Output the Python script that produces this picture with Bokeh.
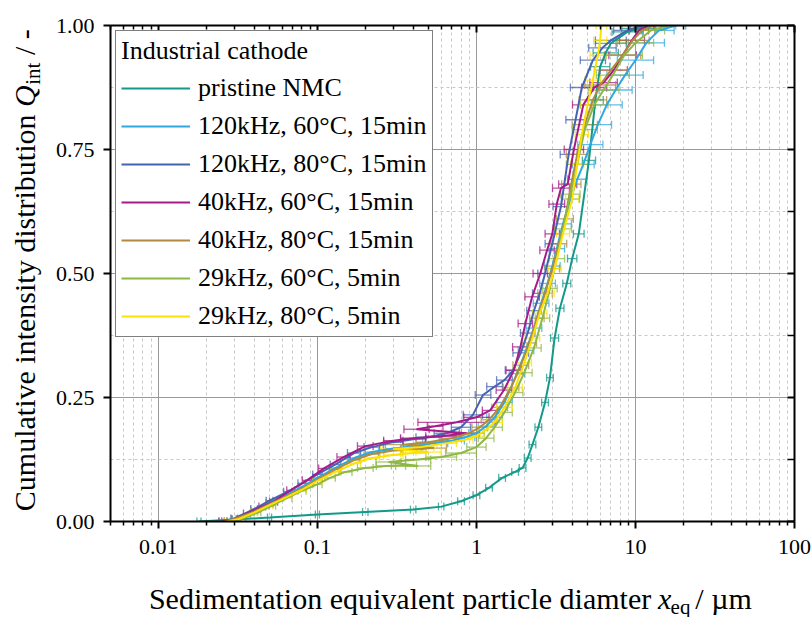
import math
from bokeh.plotting import figure
from bokeh.layouts import row, column
from bokeh.models import (Range1d, FixedTicker, LinearAxis, LogAxis, Whisker, TeeHead,
                          ColumnDataSource, Label, Legend, LegendItem, CustomJSTickFormatter)
from bokeh.embed import file_html
from bokeh.resources import INLINE

FONT = "Liberation Serif"

# ---------------- data ----------------
names = ["pristine NMC", "120kHz, 60°C, 15min", "120kHz, 80°C, 15min", "40kHz, 60°C, 15min",
         "40kHz, 80°C, 15min", "29kHz, 60°C, 5min", "29kHz, 80°C, 5min"]
colors = ["#12998a", "#2fa8e0", "#4563b0", "#a61a8a", "#b08a3e", "#8db843", "#fbe200"]

pristine_x = [0.018, 0.03, 0.05, 0.1, 0.2, 0.4, 0.6, 0.8, 1.0, 1.2, 1.45, 1.75, 1.95, 2.1, 2.25, 2.45,
              2.7, 2.9, 3.1, 3.35, 3.7, 4.0, 4.4, 5.1, 5.6, 6.0, 6.5, 7.0, 8.9, 10.5, 13.0]
pristine_y = [0.0, 0.004, 0.008, 0.014, 0.019, 0.024, 0.03, 0.041, 0.053, 0.068, 0.088, 0.1, 0.108, 0.128,
              0.155, 0.19, 0.24, 0.29, 0.37, 0.43, 0.48, 0.53, 0.58, 0.728, 0.85, 0.917, 0.945, 0.964,
              0.987, 0.994, 1.0]
pristine_f = [1.03, 1.03, 1.03, 1.03, 1.04, 1.04, 1.04, 1.05, 1.05, 1.05, 1.05, 1.05, 1.05, 1.05, 1.05,
              1.05, 1.05, 1.05, 1.06, 1.06, 1.06, 1.07, 1.08, 1.1, 1.12, 1.15, 1.2, 1.25, 1.25, 1.28, 1.2]

k120_60_x = [0.025, 0.03, 0.04, 0.05, 0.065, 0.08, 0.1, 0.13, 0.17, 0.22, 0.3, 0.4, 0.55, 0.7, 0.85,
             1.0, 1.15, 1.3, 1.5, 1.8, 2.05, 2.3, 2.55, 2.8, 3.0, 3.2, 3.5, 3.9, 4.3, 4.7, 5.2, 5.8,
             6.6, 7.5, 8.6, 10.0, 11.7, 14.0, 18.0]
k120_60_y = [0, 0.005, 0.022, 0.038, 0.055, 0.07, 0.088, 0.108, 0.128, 0.14, 0.147, 0.151, 0.158, 0.163,
             0.17, 0.178, 0.192, 0.21, 0.24, 0.298, 0.345, 0.39, 0.44, 0.48, 0.515, 0.55, 0.6, 0.65,
             0.69, 0.72, 0.76, 0.8, 0.84, 0.87, 0.9, 0.93, 0.965, 0.99, 1.0]
k120_60_f = [1.04, 1.04, 1.05, 1.05, 1.06, 1.06, 1.07, 1.07, 1.08, 1.1, 1.12, 1.15, 1.2, 1.2, 1.15,
             1.12, 1.12, 1.12, 1.12, 1.12, 1.12, 1.12, 1.12, 1.12, 1.12, 1.12, 1.13, 1.14, 1.15, 1.17,
             1.2, 1.22, 1.25, 1.27, 1.3, 1.3, 1.3, 1.25, 1.15]

k120_80_x = [0.026, 0.03, 0.04, 0.05, 0.065, 0.08, 0.1, 0.13, 0.17, 0.22, 0.3, 0.4, 0.5, 0.65, 0.8,
             0.95, 1.1, 1.3, 1.5, 1.7, 1.9, 2.1, 2.3, 2.5, 2.7, 3.0, 3.4, 3.8, 4.2, 4.6, 5.4, 6.2,
             7.0, 8.9, 11.0]
k120_80_y = [0, 0.006, 0.025, 0.042, 0.06, 0.077, 0.095, 0.115, 0.138, 0.15, 0.16, 0.166, 0.17, 0.178,
             0.19, 0.215, 0.255, 0.272, 0.285, 0.305, 0.34, 0.38, 0.425, 0.46, 0.5, 0.56, 0.635, 0.74,
             0.81, 0.875, 0.93, 0.955, 0.97, 0.99, 1.0]
k120_80_f = [1.04, 1.05, 1.05, 1.05, 1.06, 1.06, 1.07, 1.08, 1.1, 1.12, 1.15, 1.2, 1.2, 1.2, 1.15,
             1.15, 1.12, 1.12, 1.12, 1.12, 1.12, 1.11, 1.11, 1.11, 1.11, 1.11, 1.12, 1.13, 1.15, 1.18,
             1.2, 1.22, 1.25, 1.22, 1.18]

k40_60_x = [0.025, 0.03, 0.036, 0.045, 0.053, 0.068, 0.086, 0.11, 0.146, 0.2, 0.3, 0.4, 0.6, 0.87, 0.42,
            0.55, 0.75, 1.0, 1.22, 1.49, 1.72, 1.89, 2.03, 2.24, 2.52, 2.78, 3.0, 3.2, 3.4, 3.75, 4.1,
            4.7, 5.5, 6.3, 7.3, 8.3, 9.5, 10.5, 12.0]
k40_60_y = [0, 0.004, 0.016, 0.03, 0.04, 0.063, 0.083, 0.107, 0.13, 0.152, 0.163, 0.168, 0.172, 0.178,
            0.186, 0.192, 0.2, 0.21, 0.224, 0.265, 0.305, 0.352, 0.399, 0.453, 0.5, 0.547, 0.58, 0.64,
            0.672, 0.68, 0.75, 0.84, 0.875, 0.885, 0.91, 0.94, 0.97, 0.99, 1.0]
k40_60_f = [1.04, 1.04, 1.05, 1.05, 1.06, 1.06, 1.07, 1.08, 1.1, 1.12, 1.15, 1.2, 1.25, 1.2, 1.2,
            1.12, 1.75, 1.2, 1.12, 1.12, 1.12, 1.12, 1.11, 1.11, 1.11, 1.11, 1.11, 1.12, 1.13, 1.14,
            1.15, 1.17, 1.2, 1.22, 1.22, 1.22, 1.2, 1.15, 1.1]

k40_80_x = [0.026, 0.03, 0.04, 0.05, 0.065, 0.08, 0.1, 0.13, 0.17, 0.22, 0.3, 0.4, 0.54, 0.35, 0.5,
            0.7, 0.9, 1.05, 1.2, 1.4, 1.65, 1.9, 2.15, 2.4, 2.7, 3.0, 3.3, 3.6, 3.95, 4.3, 4.8, 5.4,
            6.0, 7.0, 8.3, 9.6, 11.0, 13.0]
k40_80_y = [0, 0.005, 0.02, 0.035, 0.052, 0.067, 0.085, 0.105, 0.124, 0.136, 0.143, 0.146, 0.148, 0.155,
            0.16, 0.168, 0.178, 0.19, 0.205, 0.23, 0.27, 0.315, 0.36, 0.41, 0.46, 0.51, 0.56, 0.61,
            0.68, 0.74, 0.8, 0.85, 0.88, 0.91, 0.94, 0.97, 0.99, 1.0]
k40_80_f = [1.04, 1.04, 1.05, 1.05, 1.06, 1.06, 1.07, 1.08, 1.1, 1.12, 1.15, 1.2, 1.2, 1.35, 1.2,
            1.15, 1.12, 1.12, 1.12, 1.12, 1.12, 1.12, 1.11, 1.11, 1.11, 1.11, 1.12, 1.13, 1.15, 1.17,
            1.2, 1.22, 1.25, 1.27, 1.3, 1.27, 1.2, 1.12]

k29_60_x = [0.028, 0.034, 0.042, 0.052, 0.065, 0.08, 0.1, 0.12, 0.15, 0.2, 0.27, 0.35, 0.43, 0.28, 0.43,
            0.6, 0.8, 1.0, 1.15, 1.3, 1.5, 1.75, 2.0, 2.3, 2.6, 2.9, 3.2, 3.5, 3.9, 4.3, 4.8, 5.5,
            6.3, 7.2, 8.5, 10.0, 12.5, 16.0]
k29_60_y = [0, 0.006, 0.018, 0.032, 0.048, 0.062, 0.075, 0.088, 0.1, 0.108, 0.112, 0.113, 0.112, 0.12,
            0.125, 0.13, 0.138, 0.15, 0.168, 0.19, 0.22, 0.26, 0.3, 0.35, 0.41, 0.47, 0.53, 0.59,
            0.66, 0.72, 0.79, 0.84, 0.87, 0.9, 0.94, 0.965, 0.99, 1.0]
k29_60_f = [1.04, 1.04, 1.05, 1.05, 1.06, 1.06, 1.07, 1.08, 1.1, 1.12, 1.15, 1.2, 1.2, 1.2, 1.2,
            1.25, 1.25, 1.15, 1.12, 1.12, 1.12, 1.12, 1.12, 1.11, 1.11, 1.11, 1.12, 1.13, 1.15, 1.17,
            1.2, 1.22, 1.25, 1.27, 1.3, 1.3, 1.22, 1.12]

k29_80_x = [0.027, 0.032, 0.04, 0.05, 0.065, 0.08, 0.1, 0.13, 0.17, 0.22, 0.3, 0.4, 0.5, 0.3, 0.45,
            0.65, 0.85, 1.0, 1.15, 1.3, 1.5, 1.75, 2.0, 2.25, 2.5, 2.8, 3.1, 3.5, 4.0, 4.3, 4.6,
            5.0, 5.4, 5.8, 6.0, 6.1]
k29_80_y = [0, 0.005, 0.018, 0.033, 0.05, 0.064, 0.082, 0.1, 0.117, 0.128, 0.134, 0.138, 0.14, 0.146,
            0.15, 0.158, 0.165, 0.172, 0.185, 0.2, 0.23, 0.27, 0.32, 0.37, 0.42, 0.46, 0.51, 0.58,
            0.65, 0.72, 0.78, 0.84, 0.89, 0.94, 0.97, 1.0]
k29_80_f = [1.04, 1.04, 1.05, 1.05, 1.06, 1.06, 1.07, 1.08, 1.1, 1.12, 1.15, 1.2, 1.2, 1.2, 1.2,
            1.15, 1.12, 1.12, 1.12, 1.12, 1.12, 1.11, 1.11, 1.11, 1.11, 1.1, 1.1, 1.1, 1.1, 1.1,
            1.1, 1.12, 1.12, 1.12, 1.1, 1.08]

series = [(pristine_x, pristine_y, pristine_f), (k120_60_x, k120_60_y, k120_60_f),
          (k120_80_x, k120_80_y, k120_80_f), (k40_60_x, k40_60_y, k40_60_f),
          (k40_80_x, k40_80_y, k40_80_f), (k29_60_x, k29_60_y, k29_60_f),
          (k29_80_x, k29_80_y, k29_80_f)]

x_major = [0.01, 0.1, 1, 10, 100]
x_labels = {0.01: "0.01", 0.1: "0.1", 1: "1", 10: "10", 100: "100"}
y_major = [0.0, 0.25, 0.5, 0.75, 1.0]
y_labels = {0: "0.00", 0.25: "0.25", 0.5: "0.50", 0.75: "0.75", 1: "1.00"}
y_minor = [0.125, 0.375, 0.625, 0.875]
x_minor = [round(k * 10.0 ** e, 6) for e in range(-3, 2) for k in range(2, 10)
           if 0.005 <= k * 10.0 ** e <= 100]

x_title = "Sedimentation equivalent particle diamter"
y_title = "Cumulative intensity distribution"

# ---------------- main figure ----------------
p = figure(width=759, height=575, x_axis_type="log", x_range=Range1d(0.005, 100), y_range=Range1d(0, 1),
           output_backend="svg", toolbar_location=None,
           min_border_left=58, min_border_right=17, min_border_top=25, min_border_bottom=54)
p.outline_line_color = None
p.background_fill_color = "white"

xt = FixedTicker(ticks=x_major, minor_ticks=x_minor)
yt = FixedTicker(ticks=y_major, minor_ticks=y_minor)

ax = p.xaxis[0]
ax.ticker = xt
ax.major_label_overrides = x_labels
ay = p.yaxis[0]
ay.ticker = yt
ay.major_label_overrides = y_labels

for a in (ax, ay):
    a.axis_line_width = 2
    a.axis_line_color = "black"
    a.major_tick_line_width = 2
    a.minor_tick_line_width = 1.5
    a.major_tick_out = 7
    a.major_tick_in = 0
    a.minor_tick_out = 4
    a.minor_tick_in = 0
    a.major_label_text_font = FONT
    a.major_label_text_font_size = "22px"
    a.major_label_text_color = "black"
ax.major_label_standoff = 11
ay.major_label_standoff = 9
ay.minor_tick_out = 0

blank = CustomJSTickFormatter(code="return ''")
top = LogAxis(ticker=xt, formatter=blank, axis_line_width=2, major_tick_line_width=2, minor_tick_line_width=1.5,
              major_tick_in=7, major_tick_out=0, minor_tick_in=4, minor_tick_out=0, major_label_standoff=0)
right = LinearAxis(ticker=yt, formatter=blank, axis_line_width=2, major_tick_line_width=2, minor_tick_line_width=1.5,
                   major_tick_in=7, major_tick_out=0, minor_tick_in=7, minor_tick_out=0, major_label_standoff=0)
p.add_layout(top, "above")
p.add_layout(right, "right")

for g in (p.xgrid[0], p.ygrid[0]):
    g.grid_line_color = "#9a9a9a"
    g.grid_line_width = 1
    g.minor_grid_line_color = "#c8c8c8"
    g.minor_grid_line_dash = "3 3"
    g.minor_grid_line_width = 1

items = []
for (xs, ys, fs), name, col in zip(series, names, colors):
    lo = [x / f for x, f in zip(xs, fs)]
    hi = [x * f for x, f in zip(xs, fs)]
    src = ColumnDataSource(dict(y=ys, lo=lo, hi=hi))
    w = Whisker(source=src, base="y", lower="lo", upper="hi", dimension="width",
                line_color=col, line_alpha=0.75, line_width=1.3,
                upper_head=TeeHead(size=8, line_color=col, line_alpha=0.75, line_width=1.3),
                lower_head=TeeHead(size=8, line_color=col, line_alpha=0.75, line_width=1.3))
    p.add_layout(w)
    r = p.line(xs, ys, line_color=col, line_width=2)
    items.append(LegendItem(label=name, renderers=[r]))

legend = Legend(items=items, location="top_left", title="Industrial cathode",
                title_text_font=FONT, title_text_font_size="26px", title_text_font_style="normal",
                title_text_color="black", title_standoff=7,
                label_text_font=FONT, label_text_font_size="26px", label_text_color="black",
                glyph_width=69, glyph_height=26, label_height=26, label_standoff=8, spacing=8,
                padding=5, margin=5, border_line_color="black", border_line_width=1,
                background_fill_color="white", background_fill_alpha=1.0)
p.add_layout(legend)


# ---------------- axis titles in their own strips ----------------
def strip(w, h):
    f = figure(width=w, height=h, x_range=Range1d(0, w), y_range=Range1d(0, h),
               output_backend="svg", toolbar_location=None, x_axis_location=None, y_axis_location=None,
               min_border=0, min_border_left=0, min_border_right=0, min_border_top=0, min_border_bottom=0)
    f.outline_line_color = None
    f.xgrid.visible = False
    f.ygrid.visible = False
    return f


def lab(f, text, x, y, size, align, style="normal", angle=0.0):
    f.add_layout(Label(x=x, y=y, text=text, text_font=FONT, text_font_size=size,
                       text_font_style=style, text_align=align, text_baseline="alphabetic",
                       text_color="black", angle=angle))


xl = strip(759, 42)
lab(xl, x_title, 600, 19.5, "30px", "right")
lab(xl, "x", 607.5, 19.5, "30px", "left", "italic")
lab(xl, "eq", 621.5, 11, "21px", "left")
lab(xl, "/ µm", 649, 19.5, "30px", "left")

yl = strip(52, 617)
A = math.pi / 2
lab(yl, y_title, 24, 503, "30px", "right", angle=A)
lab(yl, "Q", 24, 510.5, "30px", "left", "italic", angle=A)
lab(yl, "int", 32, 532.7, "21px", "left", angle=A)
lab(yl, "/ -", 24, 562.4, "30px", "left", angle=A)

layout = row(yl, column(p, xl, spacing=0), spacing=0)
open("out.html", "w").write(file_html(layout, INLINE))
